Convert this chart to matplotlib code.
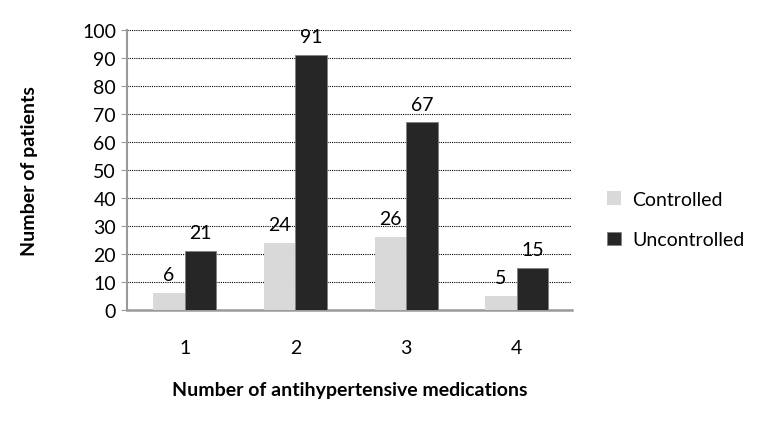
import matplotlib.pyplot as plt
import numpy as np

plt.rcParams['font.family'] = ['Lato', 'DejaVu Sans']

# Data
categories = ['1', '2', '3', '4']
controlled = [6, 24, 26, 5]
uncontrolled = [21, 91, 67, 15]
series_names = ['Controlled', 'Uncontrolled']

light = '#d9d9d9'
dark = '#262626'

def main():
    fig = plt.figure(figsize=(7.66, 4.35), dpi=100)
    ax = fig.add_axes([0.166, 0.285, 0.581, 0.644])

    x = np.arange(len(categories))
    w = 0.285
    b1 = ax.bar(x - w/2, controlled, w, color=light, label=series_names[0], zorder=3)
    b2 = ax.bar(x + w/2, uncontrolled, w, color=dark, label=series_names[1],
                edgecolor='#7f7f7f', linewidth=0.6, zorder=3)

    for bars in (b1, b2):
        for bar in bars:
            ax.annotate("{}".format(int(bar.get_height())),
                        (bar.get_x() + bar.get_width()/2, bar.get_height()),
                        xytext=(0, 7), textcoords='offset points',
                        ha='center', va='bottom', fontsize=14, zorder=4)

    ax.set_xlim(-0.52, 3.5)
    ax.set_ylim(0, 100)
    ax.set_yticks(np.arange(0, 101, 10))
    ax.set_xticks(x)
    ax.set_xticklabels(categories)
    ax.yaxis.grid(True, linestyle=(0, (1, 1)), color='black', linewidth=0.8, zorder=0)
    ax.set_axisbelow(True)

    for s in ['top', 'right']:
        ax.spines[s].set_visible(False)
    ax.spines['left'].set_color('#9a9a9a')
    ax.spines['left'].set_linewidth(1.5)
    ax.spines['bottom'].set_color('#9a9a9a')
    ax.spines['bottom'].set_linewidth(1.8)

    ax.tick_params(axis='y', length=4, color='#9a9a9a', labelsize=14, pad=4)
    ax.tick_params(axis='x', length=0, labelsize=14, pad=21)

    ax.set_xlabel("Number of antihypertensive medications", fontsize=14,
                  fontweight='bold', labelpad=18)
    ax.set_ylabel("Number of patients", fontsize=14, fontweight='bold', labelpad=32)

    fig.legend(loc='center left', bbox_to_anchor=(0.77, 0.493), frameon=False,
               fontsize=14, handlelength=0.7, handleheight=0.7,
               labelspacing=1.2, handletextpad=0.6)

    fig.savefig("out.png", dpi=100)

if __name__ == "__main__":
    main()
